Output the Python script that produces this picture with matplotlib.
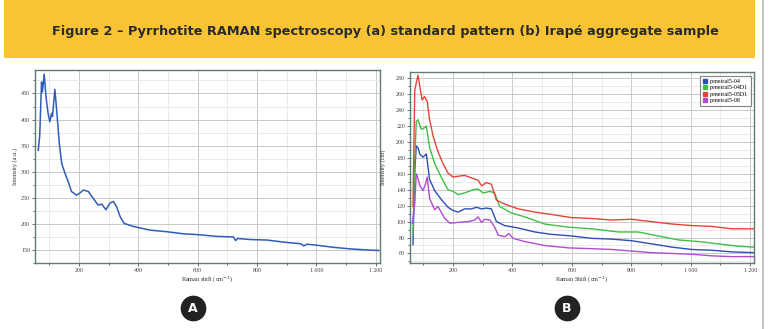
import matplotlib
matplotlib.use("Agg")
import matplotlib.pyplot as plt
from matplotlib.lines import Line2D
from matplotlib.patches import Rectangle
from matplotlib.ticker import MultipleLocator, FuncFormatter

# ---------------- data ----------------
title = "Figure 2 \u2013 Pyrrhotite RAMAN spectroscopy (a) standard pattern (b) Irap\u00e9 aggregate sample"

a_shift = [63, 68, 74, 77, 83, 89, 96, 102, 108, 111, 119, 125, 134, 142, 153, 164, 175, 192, 203,
           215, 232, 248, 265, 277, 291, 305, 316, 327, 339, 352, 384, 440, 496, 552, 609, 665,
           721, 728, 735, 778, 834, 890, 947, 958, 970, 1003, 1059, 1116, 1172, 1211]
a_int = [341, 370, 472, 453, 487, 444, 412, 396, 412, 406, 458, 418, 354, 316, 297, 281, 262, 255, 259,
         265, 262, 249, 236, 238, 227, 240, 243, 233, 214, 201, 195, 188, 185, 181, 179, 176,
         175, 168, 172, 170, 169, 165, 162, 158, 161, 159, 155, 152, 150, 149]

b_names = ["peneiral5-04", "peneiral5-04D1", "peneiral5-05D1", "peneiral5-08"]

red_x = [65, 71, 76, 82, 88, 96, 104, 113, 121, 133, 149, 166, 183, 200, 217, 239, 262, 284, 296,
         312, 329, 346, 374, 419, 475, 531, 599, 666, 734, 801, 869, 936, 1003, 1071, 1138, 1211]
red_y = [119, 265, 274, 284, 270, 253, 257, 251, 228, 207, 188, 173, 161, 156, 157, 158, 155, 152, 145,
         149, 147, 127, 122, 116, 112, 109, 105, 104, 102, 103, 100, 97, 95, 94, 91, 91]

green_x = [65, 71, 76, 82, 93, 104, 110, 121, 138, 160, 183, 200, 217, 239, 267, 284, 301, 324, 340,
           357, 396, 441, 508, 588, 666, 756, 823, 890, 958, 1025, 1093, 1161, 1211]
green_y = [85, 175, 226, 228, 216, 218, 220, 193, 173, 156, 140, 138, 134, 136, 140, 141, 136, 138, 136,
           119, 111, 106, 97, 93, 91, 87, 87, 82, 77, 75, 72, 69, 68]

blue_x = [65, 71, 76, 82, 88, 99, 110, 121, 138, 160, 183, 200, 217, 239, 262, 279, 296, 312, 329,
          346, 374, 419, 475, 531, 599, 666, 734, 801, 869, 936, 1003, 1071, 1138, 1211]
blue_y = [71, 162, 195, 193, 185, 181, 185, 153, 139, 128, 118, 114, 112, 116, 116, 118, 116, 117, 116,
          100, 95, 92, 87, 84, 82, 79, 78, 76, 72, 68, 65, 64, 62, 61]

purple_x = [63, 71, 76, 79, 88, 99, 107, 113, 121, 138, 149, 172, 189, 217, 251, 273, 284, 296, 307,
            324, 340, 352, 374, 388, 402, 441, 508, 588, 666, 734, 801, 869, 936, 1003, 1071, 1138, 1211]
purple_y = [98, 122, 160, 158, 145, 139, 147, 156, 129, 115, 119, 104, 98, 99, 100, 102, 106, 99, 103,
            102, 93, 83, 81, 85, 79, 75, 70, 67, 66, 65, 63, 61, 60, 59, 57, 56, 56]

# ---------------- figure ----------------
W, H = 772, 329
fig = plt.figure(figsize=(W / 100, H / 100), dpi=100)
fig.patch.set_facecolor("white")

def fx(px):
    return px / W

def fy(py):
    return 1 - py / H

# banner
fig.add_artist(Rectangle((fx(4), fy(58)), fx(755) - fx(4), fy(0) - fy(58),
                         transform=fig.transFigure, facecolor="#F8C436", edgecolor="none", zorder=0))
fig.text(fx(385), fy(32), title, ha="center", va="center", fontsize=9.3,
         fontweight="bold", color="#2a2a2a", family="DejaVu Sans")
# right gray border line
fig.add_artist(Line2D([fx(763), fx(763)], [0, 1], transform=fig.transFigure,
                      color="#b8b8b8", lw=1.2))

spine_col = "#5d7d73"


def style_axes(ax, xmaj, ymaj, ymin):
    ax.set_facecolor("white")
    for s in ax.spines.values():
        s.set_color(spine_col)
        s.set_linewidth(1.0)
    ax.xaxis.set_major_locator(MultipleLocator(xmaj))
    ax.xaxis.set_minor_locator(MultipleLocator(xmaj / 2))
    ax.yaxis.set_major_locator(MultipleLocator(ymaj))
    ax.yaxis.set_minor_locator(MultipleLocator(ymin))
    ax.grid(which="major", color="#c9c9c9", lw=0.7)
    ax.grid(which="minor", color="#e6e6e6", lw=0.6)
    ax.set_axisbelow(True)
    ax.tick_params(which="both", direction="out", length=2, width=0.6, color="#555555", pad=1.5)
    ax.tick_params(which="minor", length=1.5)
    ax.xaxis.set_major_formatter(FuncFormatter(
        lambda v, p: f"{int(v):,}".replace(",", "\u2009") if v >= 1000 else f"{int(v)}"))
    for lab in ax.get_xticklabels() + ax.get_yticklabels():
        lab.set_fontfamily("Liberation Serif")
        lab.set_fontsize(4.3)
        lab.set_color("#444444")


# ---- panel A ----
axA = fig.add_axes([fx(35), fy(263), fx(380) - fx(35), fy(70) - fy(263)])
axA.plot(a_shift, a_int, color="#2f5cb8", lw=1.1)
axA.set_xlim(52, 1215)
axA.set_ylim(125, 495)
style_axes(axA, 200, 50, 25)
axA.set_xlabel("Raman shift (cm$^{-1}$)", fontsize=4.5, family="Liberation Serif", color="#333333", labelpad=1)
axA.set_ylabel("Intensity (a.u.)", fontsize=4.5, family="Liberation Serif", color="#333333", labelpad=2)

# ---- panel B ----
axB = fig.add_axes([fx(410), fy(263), fx(754) - fx(410), fy(72) - fy(263)])
cols = ["#2a50b4", "#3fbf45", "#e2443a", "#b04cd0"]
series = [(blue_x, blue_y), (green_x, green_y), (red_x, red_y), (purple_x, purple_y)]
for (xs, ys), c in zip(series, cols):
    axB.plot(xs, ys, color=c, lw=1.0)
axB.set_xlim(55, 1213)
axB.set_ylim(48, 288)
style_axes(axB, 200, 20, 10)
axB.set_xlabel("Raman Shift (cm$^{-1}$)", fontsize=4.5, family="Liberation Serif", color="#333333", labelpad=1)
axB.set_ylabel("Intensity (cnt)", fontsize=4.5, family="Liberation Serif", color="#333333", labelpad=7)

handles = [Line2D([], [], marker="s", ls="none", color=c, markersize=2.8) for c in cols]
leg = axB.legend(handles, b_names, loc="upper right", bbox_to_anchor=(0.995, 0.985),
                 prop=dict(family="Liberation Serif", size=4.3), frameon=True, fancybox=False,
                 handlelength=0.8, handletextpad=0.5, borderpad=0.45, labelspacing=0.2,
                 borderaxespad=0.2)
leg.get_frame().set_edgecolor("#666666")
leg.get_frame().set_linewidth(0.8)

# ---- panel badges ----
for (px, py), letter in [((193, 308), "A"), ((567, 308), "B")]:
    fig.add_artist(Line2D([fx(px)], [fy(py)], marker="o", markersize=17.5, color="#222222",
                          transform=fig.transFigure, ls="none"))
    fig.text(fx(px), fy(py), letter, ha="center", va="center", color="white",
             fontsize=9, fontweight="bold", family="DejaVu Sans")

fig.savefig("out.png", dpi=100, facecolor="white")
